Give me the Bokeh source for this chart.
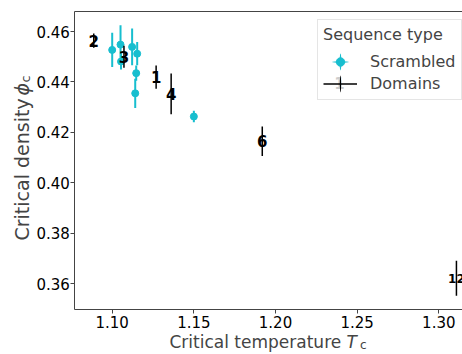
import numpy as np
from bokeh.plotting import figure
from bokeh.models import (ColumnDataSource, Legend, LegendItem, Label, LinearAxis,
                          FixedTicker, NumeralTickFormatter)
from bokeh.core.properties import value
from bokeh.embed import file_html
from bokeh.resources import INLINE

# ---------------- data ----------------
scr_tc = [1.1000, 1.1051, 1.1054, 1.1122, 1.1153, 1.1147, 1.1141, 1.1500]
scr_phi = [0.4527, 0.4548, 0.4481, 0.4539, 0.4512, 0.4435, 0.4355, 0.4263]
scr_err = [0.0068, 0.0077, 0.0032, 0.0073, 0.0046, 0.0030, 0.0058, 0.0023]

dom_labels = ["2", "3", "1", "4", "6", "12"]
dom_tc = [1.0887, 1.1072, 1.1269, 1.1361, 1.1919, 1.3108]
dom_phi = [0.4564, 0.4500, 0.4419, 0.4353, 0.4165, 0.3622]
dom_err = [0.0028, 0.0044, 0.0046, 0.0081, 0.0058, 0.0069]

x_ticks = [1.10, 1.15, 1.20, 1.25, 1.30]
y_ticks = [0.36, 0.38, 0.40, 0.42, 0.44, 0.46]

CYAN = "#17becf"
SPINE = "#444444"
FONT = "DejaVu Sans"

# ---------------- layout (pixel <-> data) ----------------
W, H = 462, 354
XPX, XREF_PX, XREF = 1633.0, 111.7, 1.10
YPX, YREF_PX, YREF = 2523.0, 31.0, 0.46


def cx(px):
    return XREF + (px - XREF_PX) / XPX


def cy(py):
    return YREF - (py - YREF_PX) / YPX


XA, XB = cx(0), cx(W)
YA, YB = cy(H), cy(0)
SP_L, SP_T, SP_B = cx(74.3), cy(10.7), cy(309.0)

p = figure(width=W, height=H, x_range=(XA, XB), y_range=(YA, YB),
           output_backend="svg", toolbar_location=None,
           min_border_left=0, min_border_right=0, min_border_top=0,
           min_border_bottom=0)
p.outline_line_color = None
p.xgrid.grid_line_color = None
p.ygrid.grid_line_color = None
p.background_fill_color = "white"
p.border_fill_color = "white"

xax = p.below[0]
yax = p.left[0]
xax.fixed_location = SP_B
yax.fixed_location = SP_L
xax.bounds = (SP_L, XB)
yax.bounds = (SP_B, SP_T)
for ax, ticks in ((xax, x_ticks), (yax, y_ticks)):
    ax.ticker = FixedTicker(ticks=ticks)
    ax.formatter = NumeralTickFormatter(format="0.00")
    ax.minor_tick_line_color = None
    ax.major_tick_in = 0
    ax.major_tick_out = 4
    ax.major_tick_line_color = SPINE
    ax.axis_line_color = SPINE
    ax.major_label_text_font = FONT
    ax.major_label_text_font_size = "15px"
    ax.major_label_text_color = "black"
xax.major_label_standoff = 2
yax.major_label_standoff = 1

top = LinearAxis(ticker=FixedTicker(ticks=[]), major_tick_out=0, major_tick_in=0,
                 minor_tick_out=0, minor_tick_in=0, axis_line_color=SPINE,
                 major_label_text_font_size="0px", fixed_location=SP_T,
                 bounds=(SP_L, XB))
p.add_layout(top, "above")

src_s = ColumnDataSource(dict(x=scr_tc, y=scr_phi,
                              lo=[a - b for a, b in zip(scr_phi, scr_err)],
                              hi=[a + b for a, b in zip(scr_phi, scr_err)]))
# text markers are scaled to a fixed marker size: longer labels get smaller glyphs
src_d = ColumnDataSource(dict(x=dom_tc, y=dom_phi, label=dom_labels,
                              fs=["15px" if len(t) == 1 else "12px" for t in dom_labels],
                              lo=[a - b for a, b in zip(dom_phi, dom_err)],
                              hi=[a + b for a, b in zip(dom_phi, dom_err)]))

s_bars = p.segment(x0="x", y0="lo", x1="x", y1="hi", source=src_s,
                   line_color=CYAN, line_width=2)
s_pts = p.scatter("x", "y", source=src_s, size=7, marker="circle",
                  fill_color=CYAN, line_color=CYAN)
d_bars = p.segment(x0="x", y0="lo", x1="x", y1="hi", source=src_d,
                   line_color="black", line_width=1.5)
d_txt = p.text("x", "y", text="label", source=src_d, text_align="center",
               text_baseline="middle", text_font=value(FONT),
               text_font_size="fs", text_font_style="bold", text_color="black")

# legend sample glyphs (no data points)
nan_src = ColumnDataSource(dict(x=np.array([np.nan]), y=np.array([np.nan])))
leg_s_v = p.ellipse("x", "y", width=2, height=20, width_units="screen",
                    height_units="screen", fill_color=CYAN, line_color=None,
                    source=nan_src)
leg_s_h = p.ellipse("x", "y", width=20, height=2, width_units="screen",
                    height_units="screen", fill_color=CYAN, line_color=None,
                    source=nan_src)
leg_d_line = p.line("x", "y", source=nan_src, line_color="black", line_width=1.5)
leg_d_v = p.ellipse("x", "y", width=1.5, height=20, width_units="screen",
                    height_units="screen", fill_color="black", line_color=None,
                    source=nan_src)

legend = Legend(items=[LegendItem(label="Scrambled", renderers=[leg_s_v, leg_s_h, s_pts]),
                       LegendItem(label="Domains", renderers=[leg_d_line, leg_d_v])],
                location=(317, 254), title="Sequence type",
                title_text_font=FONT, title_text_font_size="16px",
                title_text_font_style="normal", title_standoff=7,
                label_text_font=FONT, label_text_font_size="16px",
                glyph_width=34, glyph_height=21, label_height=21,
                label_standoff=13, spacing=1, padding=5, margin=0,
                border_line_color="#cccccc", border_line_width=1,
                background_fill_color="white", background_fill_alpha=0.8)
p.add_layout(legend, "center")

p.add_layout(Label(x=cx(339), y=cy(82), text="1", text_align="center",
                   text_baseline="middle", text_font=FONT,
                   text_font_size="15px", text_font_style="bold",
                   text_color="black", level="overlay"))

# axis labels (x: 17px, y: 19px as in the reference)
XB_BASE = 341.0
p.add_layout(Label(x=cx(169), y=cy(XB_BASE), text="Critical temperature ",
                   text_font=FONT, text_font_size="17px",
                   text_align="left", text_baseline="alphabetic"))
p.add_layout(Label(x=cx(346), y=cy(XB_BASE), text="T", text_font=FONT,
                   text_font_size="17px", text_font_style="italic",
                   text_align="left", text_baseline="alphabetic"))
p.add_layout(Label(x=cx(359.5), y=cy(XB_BASE + 3), text="c", text_font=FONT,
                   text_font_size="12px",
                   text_align="left", text_baseline="alphabetic"))

ang = np.pi / 2
YB_BASE = 21.8
p.add_layout(Label(x=cx(YB_BASE), y=cy(240), text="Critical density", angle=ang,
                   text_font=FONT, text_font_size="19px",
                   text_align="left", text_baseline="alphabetic"))
p.add_layout(Label(x=cx(YB_BASE), y=cy(95), text="ϕ", angle=ang,
                   text_font=FONT, text_font_size="19px", text_font_style="italic",
                   text_align="left", text_baseline="alphabetic"))
p.add_layout(Label(x=cx(YB_BASE + 3.5), y=cy(82), text="c", angle=ang,
                   text_font=FONT, text_font_size="13px",
                   text_align="left", text_baseline="alphabetic"))

open("out.html", "w").write(file_html(p, INLINE))
